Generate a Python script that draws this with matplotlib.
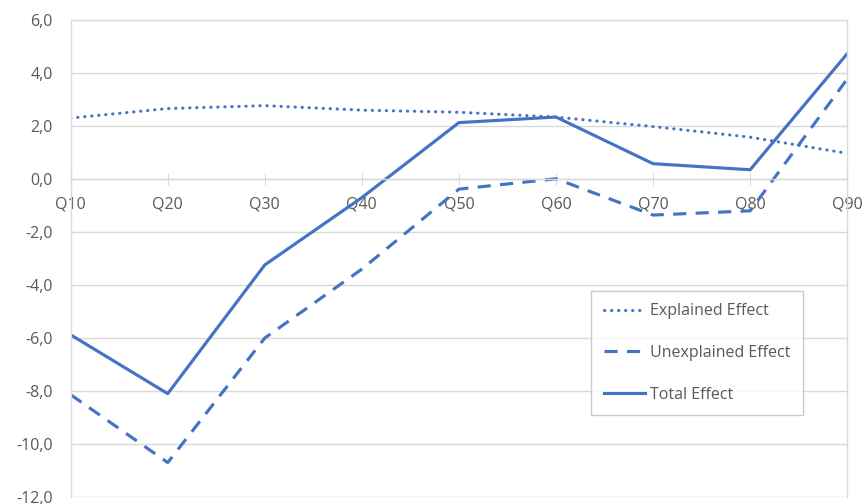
import matplotlib.pyplot as plt
from matplotlib.ticker import FuncFormatter, MultipleLocator

plt.rcParams['font.family'] = ['Open Sans', 'DejaVu Sans']

quantiles = ['Q10', 'Q20', 'Q30', 'Q40', 'Q50', 'Q60', 'Q70', 'Q80', 'Q90']
explained = [2.30, 2.66, 2.77, 2.60, 2.52, 2.34, 1.98, 1.58, 0.97]
unexplained = [-8.14, -10.70, -6.00, -3.40, -0.38, 0.01, -1.36, -1.20, 3.77]
total = [-5.88, -8.10, -3.24, -0.70, 2.13, 2.34, 0.58, 0.35, 4.73]

blue = '#4472C4'
grid_col = '#d9d9d9'
text_col = '#595959'

fig = plt.figure(figsize=(8.65, 5.04), dpi=100)
ax = fig.add_axes([0.0817, 0.0139, 0.8977, 0.9463])

x = range(len(quantiles))
ax.plot(x, explained, color=blue, lw=2.2, linestyle=(0, (0.1, 2.2)),
        dash_capstyle='round', label='Explained Effect')
ax.plot(x, unexplained, color=blue, lw=2.25, linestyle=(0, (4.2, 3)),
        label='Unexplained Effect')
ax.plot(x, total, color=blue, lw=2.25, label='Total Effect')

ax.set_xlim(0, len(quantiles) - 1)
ax.set_ylim(-12, 6)
ax.yaxis.set_major_locator(MultipleLocator(2))
ax.yaxis.set_major_formatter(FuncFormatter(lambda v, p: f'{v:.1f}'.replace('.', ',')))
ax.grid(axis='y', color=grid_col, lw=1)
ax.set_axisbelow(True)

# category axis crosses at zero
ax.spines['bottom'].set_position(('data', 0))
for s in ['bottom', 'left', 'right', 'top']:
    ax.spines[s].set_color(grid_col)
    ax.spines[s].set_linewidth(1)
ax.set_xticks(list(x))
ax.set_xticklabels(quantiles)
ax.tick_params(axis='x', direction='inout', length=9, color=grid_col,
               labelcolor=text_col, labelsize=11.5, pad=8)
ax.tick_params(axis='y', length=0, labelcolor=text_col, labelsize=11.5, pad=13)

leg = ax.legend(loc='upper left', bbox_to_anchor=(0.670, 0.4325), fontsize=11.5,
                frameon=True, fancybox=False, edgecolor='#bfbfbf',
                handlelength=2.6, handletextpad=0.3, labelspacing=1.6,
                borderpad=0.8, borderaxespad=0)
leg.get_frame().set_linewidth(1)
for t in leg.get_texts():
    t.set_color(text_col)

fig.savefig('out.png', dpi=100)
